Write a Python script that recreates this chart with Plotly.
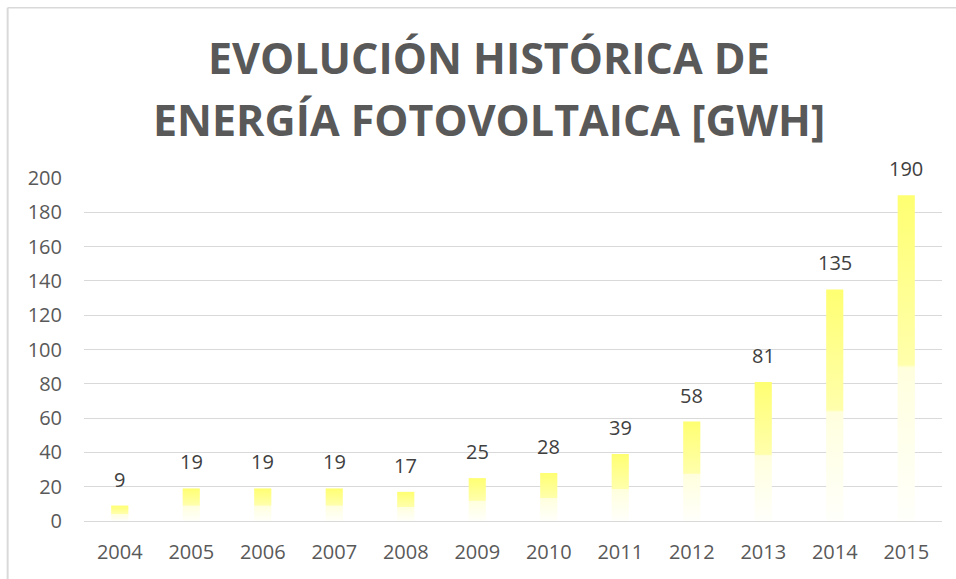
import plotly.graph_objects as go

# Annual photovoltaic generation (GWh)
years = ["2004", "2005", "2006", "2007", "2008", "2009", "2010", "2011",
         "2012", "2013", "2014", "2015"]
gwh = [9, 19, 19, 19, 17, 25, 28, 39, 58, 81, 135, 190]

y_ticks = [0, 20, 40, 60, 80, 100, 120, 140, 160, 180, 200]

title_lines = ["EVOLUCIÓN HISTÓRICA DE", "ENERGÍA FOTOVOLTAICA [GWH]"]

BAR_W = 0.24
TEXT = "#595959"
LABEL = "#404040"
GRID = "#D9D9D9"

# vertical gradient (0 = bottom of bar, 1 = top of bar)
bar_scale = [
    [0.0, "#FFFFFB"],
    [0.47, "#FFFFDE"],
    [0.48, "#FFFFAC"],
    [1.0, "#FFFF72"],
]

fig = go.Figure()

for i, v in enumerate(gwh):
    x0, x1 = i - BAR_W / 2, i + BAR_W / 2
    fig.add_trace(go.Scatter(
        x=[x0, x0, x1, x1, x0],
        y=[0, v, v, 0, 0],
        mode="lines",
        line=dict(width=0),
        fill="toself",
        fillgradient=dict(type="vertical", colorscale=bar_scale),
        hoverinfo="skip",
        showlegend=False,
    ))

annotations = []
# value labels above bars
for i, v in enumerate(gwh):
    annotations.append(dict(
        x=i, y=v, xref="x", yref="y",
        text=str(v), showarrow=False,
        xanchor="center", yanchor="bottom", yshift=11,
        font=dict(family="Open Sans", size=20, color=LABEL),
    ))

# two-line chart title
for line, ypos in zip(title_lines, [1.351, 1.171]):
    annotations.append(dict(
        x=0.472, y=ypos, xref="paper", yref="paper",
        text=f"<b>{line}</b>", showarrow=False,
        xanchor="center", yanchor="middle",
        font=dict(family="Open Sans", size=43, color=TEXT),
    ))

fig.update_layout(
    width=956,
    height=579,
    margin=dict(l=84, r=14, t=178, b=58),
    paper_bgcolor="white",
    plot_bgcolor="white",
    annotations=annotations,
    xaxis=dict(
        range=[-0.5, len(years) - 0.5],
        tickmode="array",
        tickvals=list(range(len(years))),
        ticktext=years,
        showgrid=False,
        zeroline=False,
        showline=False,
        ticks="",
        ticklabelstandoff=17,
        tickfont=dict(family="Open Sans", size=20, color=TEXT),
    ),
    yaxis=dict(
        range=[0, 200],
        tickmode="array",
        tickvals=y_ticks,
        showgrid=True,
        gridcolor=GRID,
        gridwidth=1,
        zeroline=True,
        zerolinecolor=GRID,
        zerolinewidth=1,
        showline=False,
        ticks="",
        ticklabelstandoff=21,
        tickfont=dict(family="Open Sans", size=20, color=TEXT),
    ),
    shapes=[
        # chart frame (top and left edges)
        dict(type="line", xref="paper", yref="paper",
             x0=-0.089, x1=1.1, y0=1.496, y1=1.496,
             line=dict(color="#D9D9D9", width=1.5)),
        dict(type="line", xref="paper", yref="paper",
             x0=-0.089, x1=-0.089, y0=1.496, y1=-0.3,
             line=dict(color="#D9D9D9", width=2)),
    ],
)

fig.write_html("out.html")
